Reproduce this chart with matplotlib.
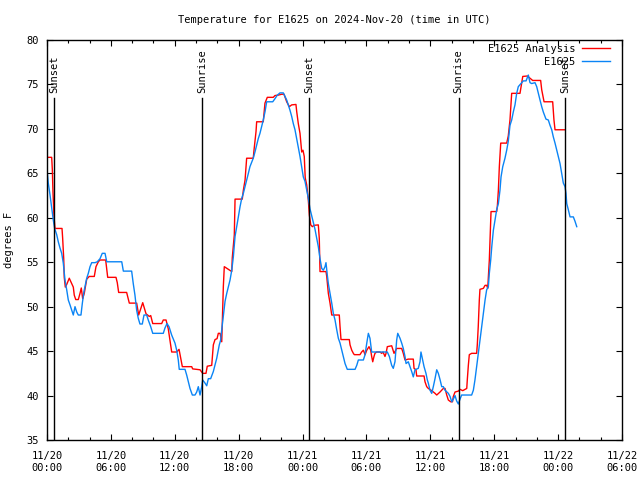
import matplotlib
matplotlib.use("Agg")
import matplotlib.pyplot as plt
from matplotlib.ticker import MultipleLocator

# hours since 2024-11-20 00:00 UTC
red_t = [0.00, 0.44, 0.50, 0.56, 0.66, 0.75, 1.41, 1.47, 1.57, 1.62, 1.72, 1.85, 2.09, 2.32, 2.47,
         2.56, 2.70, 2.94, 3.10, 3.22, 3.35, 3.50, 3.73, 3.97, 4.44, 4.60, 4.82, 4.98, 5.51, 5.70,
         6.48, 6.60, 6.73, 7.48, 7.73, 8.42, 8.61, 8.99, 9.30, 9.61, 9.74, 9.93, 10.77, 10.92, 11.18,
         11.39, 11.71, 12.18, 12.40, 12.71, 13.59, 13.68, 14.06, 14.37, 14.62, 14.93, 15.05, 15.47,
         15.62, 15.78, 15.97, 16.09, 16.25, 16.41, 16.56, 16.65, 17.03, 17.35, 17.40, 17.59, 17.66,
         18.34, 18.44, 18.60, 18.75, 19.37, 19.44, 19.63, 19.69, 20.31, 20.38, 20.47, 20.69, 21.25,
         21.41, 21.72, 22.04, 22.26, 22.51, 22.76, 22.98, 23.38, 23.45, 23.60, 23.76, 23.92, 24.04,
         24.16, 24.25, 24.39, 24.54, 24.64, 24.77, 24.92, 25.08, 25.48, 25.57, 25.64, 26.20, 26.27,
         26.42, 26.58, 26.74, 27.45, 27.52, 27.61, 28.39, 28.46, 28.62, 28.77, 28.86, 29.39, 29.55,
         29.71, 29.87, 30.03, 30.24, 30.40, 30.49, 30.59, 30.71, 30.80, 30.96, 31.27, 31.43, 31.56,
         31.74, 31.84, 31.96, 32.37, 32.59, 32.84, 33.31, 33.46, 33.62, 33.93, 34.40, 34.47, 34.65,
         34.72, 35.41, 35.50, 35.66, 35.81, 36.13, 36.44, 36.60, 36.91, 37.07, 37.22, 37.38, 37.54,
         37.69, 37.91, 38.08, 38.16, 38.32, 38.63, 38.79, 39.04, 39.26, 39.42, 39.47, 39.57, 39.66,
         39.88, 40.35, 40.41, 40.50, 40.60, 40.66, 40.98, 41.14, 41.29, 41.39, 41.45, 41.54, 41.61,
         41.70, 42.23, 42.29, 42.39, 42.48, 42.61, 43.17, 43.32, 43.48, 43.64, 44.42, 44.58, 44.68,
         45.11, 45.36, 45.61, 46.36, 46.46, 46.68, 47.49, 47.61, 47.71, 48.65]
red_v = [66.8, 66.8, 65.45, 62.9, 60.1, 58.8, 58.8, 57.7, 55.4, 53.3, 52.2, 52.5, 53.2, 52.6, 52.2,
         51.3, 50.8, 50.8, 51.5, 52.1, 50.9, 51.5, 53.1, 53.4, 53.4, 54.5, 55.05, 55.25, 55.25, 53.3,
         53.3, 52.7, 51.6, 51.6, 50.4, 50.4, 49.06, 50.45, 49.2, 48.9, 49.0, 48.1, 48.1, 48.5, 48.5,
         47.5, 44.9, 44.9, 45.2, 43.25, 43.25, 43.0, 42.95, 42.9, 42.5, 42.5, 43.3, 43.4,
         45.7, 46.3, 46.4, 47.0, 47.0, 46.05, 52.25, 54.5, 54.2, 53.95, 55.5, 58.06, 62.1,
         62.1, 63.1, 64.25, 66.7, 66.7, 67.6, 69.7, 70.8, 70.8, 71.75, 72.9, 73.55, 73.55,
         73.75, 73.8, 73.9, 73.9, 73.05, 72.5, 72.7, 72.75, 71.95, 70.6, 69.5, 67.4, 67.6,
         66.9, 64.5, 63.7, 62.0, 60.3, 59.2, 59.0, 59.15, 59.2, 57.7, 53.95, 53.95, 53.4,
         51.5, 50.4, 49.06, 49.06, 47.75, 46.3, 46.3, 45.7, 45.1, 44.75, 44.6, 44.6, 44.9,
         45.1, 44.6, 45.1, 45.5, 45.1, 44.4, 43.8, 44.4, 44.75, 44.9, 44.9, 44.75, 44.9,
         44.4, 44.75, 45.5, 45.6, 44.75, 45.3, 45.3, 44.75, 44.0, 44.1, 44.1, 43.06, 42.9,
         42.2, 42.2, 41.55, 41.0, 40.8, 40.55, 40.25, 40.06, 40.4, 40.6, 40.8, 40.8, 40.06,
         39.5, 39.3, 39.3, 39.9, 40.4, 40.5, 40.7, 40.55, 40.7, 40.8, 41.75, 43.4, 44.6,
         44.75, 44.75, 45.7, 47.75, 50.75, 51.95, 52.06, 52.4, 52.4, 52.06, 53.4, 55.25, 57.5,
         60.7, 60.7, 61.25, 63.1, 65.75, 68.4, 68.4, 69.2, 71.0, 74.0, 74.0, 75.2, 75.9,
         75.95, 75.7, 75.45, 75.45, 74.4, 73.05, 73.05, 71.0, 69.9, 69.9]

blue_t = [0.00, 0.12, 0.28, 0.44, 0.59, 0.72, 0.91, 1.06, 1.22, 1.38, 1.53, 1.69, 1.85, 2.00, 2.16,
          2.32, 2.47, 2.63, 2.79, 2.94, 3.19, 3.32, 3.47, 3.73, 3.88, 4.04, 4.20, 4.51, 4.72, 4.98,
          5.19, 5.45, 5.61, 7.02, 7.17, 7.95, 8.10, 8.26, 8.42, 8.57, 8.73, 8.95, 9.11, 9.36, 9.51,
          9.74, 9.93, 10.92, 11.08, 11.27, 11.46, 11.71, 12.02, 12.18, 12.33, 12.42, 12.96, 13.12,
          13.27, 13.43, 13.65, 13.90, 14.06, 14.21, 14.37, 14.53, 14.62, 14.84, 15.00, 15.15, 15.37,
          15.62, 15.94, 16.18, 16.31, 16.41, 16.56, 16.72, 16.88, 17.03, 17.19, 17.35, 17.50, 17.66,
          17.82, 17.97, 18.13, 18.29, 18.44, 18.60, 18.75, 18.91, 19.06, 19.37, 19.53, 19.69, 19.84,
          20.00, 20.16, 20.31, 20.47, 20.63, 21.20, 21.41, 21.63, 21.88, 22.19, 22.51, 22.66, 22.82,
          22.98, 23.13, 23.29, 23.45, 23.60, 23.76, 23.92, 24.07, 24.23, 24.39, 24.54, 24.70, 24.86,
          25.01, 25.17, 25.33, 25.48, 25.64, 25.80, 25.95, 26.11, 26.20, 26.32, 26.42, 26.58, 26.74,
          26.89, 27.05, 27.21, 27.36, 27.52, 27.68, 27.83, 27.99, 28.20, 28.93, 29.09, 29.24, 29.71,
          29.87, 30.03, 30.18, 30.33, 30.49, 31.96, 32.15, 32.37, 32.52, 32.68, 32.84, 32.94, 33.15,
          33.31, 33.46, 33.62, 33.72, 33.93, 34.09, 34.25, 34.40, 34.56, 34.87, 35.03, 35.12, 35.28,
          35.41, 35.59, 35.72, 35.81, 35.97, 36.13, 36.28, 36.44, 36.60, 36.75, 36.91, 37.07, 37.22,
          37.38, 37.69, 37.85, 38.01, 38.16, 38.32, 38.47, 38.63, 38.79, 38.94, 39.88, 40.04, 40.19,
          40.35, 40.50, 40.66, 40.82, 40.98, 41.14, 41.29, 41.45, 41.54, 41.67, 41.77, 41.92, 42.07,
          42.23, 42.39, 42.54, 42.64, 42.80, 43.01, 43.17, 43.32, 43.48, 43.64, 43.79, 43.95, 44.11,
          44.26, 44.58, 44.73, 44.99, 45.20, 45.36, 45.52, 45.83, 45.99, 46.14, 46.30, 46.46, 46.61,
          46.86, 47.08, 47.24, 47.40, 47.55, 47.71, 47.87, 48.02, 48.18, 48.34, 48.49, 48.65, 48.74,
          48.81, 48.96, 49.12, 49.43, 49.59, 49.75]
blue_v = [65.45, 63.9, 62.6, 61.1, 59.75, 58.8, 58.1, 57.3, 56.6, 56.0, 54.9, 53.0, 51.9, 50.75, 50.2,
          49.6, 49.06, 50.0, 49.4, 49.06, 49.06, 50.4, 51.7, 53.2, 53.75, 54.5, 54.95, 54.95, 55.05, 55.4,
          56.0, 56.0, 55.05, 55.05, 54.0, 54.0, 52.6, 51.3, 49.6, 48.7, 48.05, 48.05, 49.06, 49.06, 48.5,
          47.75, 47.0, 47.0, 47.6, 48.1, 47.75, 46.8, 45.9, 45.1, 44.0, 42.95, 42.95, 42.3,
          41.55, 40.8, 40.06, 40.06, 40.4, 41.0, 40.06, 41.0, 41.75, 41.4, 41.1, 41.9, 41.9,
          42.7, 44.2, 45.7, 46.25, 47.4, 48.9, 50.6, 51.5, 52.25, 53.0, 54.1, 55.6, 57.9,
          59.0, 60.1, 61.25, 62.2, 62.75, 63.5, 64.25, 65.0, 65.75, 66.7, 67.4, 68.2, 68.9,
          69.5, 70.25, 71.0, 71.9, 73.05, 73.05, 73.4, 73.8, 74.05, 74.05, 73.25, 72.7, 72.1,
          71.4, 70.6, 69.9, 68.9, 68.0, 66.9, 65.75, 64.6, 64.1, 63.1, 62.2, 61.0, 60.2,
          59.5, 58.7, 57.7, 56.75, 55.4, 54.3, 54.1, 54.5, 54.95, 53.6, 52.6, 51.5, 50.4,
          49.25, 48.5, 47.4, 46.45, 45.9, 45.1, 44.4, 43.6, 42.95, 42.95, 43.4, 44.0, 44.0,
          44.6, 45.9, 47.0, 46.45, 44.9, 44.9, 44.4, 43.4, 43.06, 43.8, 46.25, 47.0, 46.45,
          45.9, 45.3, 44.4, 43.6, 43.8, 43.25, 42.7, 42.1, 42.9, 43.06, 43.8, 44.9, 44.0,
          43.25, 42.5, 41.75, 41.4, 40.6, 40.25, 41.0, 41.9, 42.9, 42.5, 41.8, 41.0, 41.0,
          40.6, 40.25, 39.9, 39.3, 39.6, 40.0, 39.4, 39.05, 39.6, 40.06, 40.06, 40.6, 41.75,
          43.25, 44.75, 46.25, 47.75, 49.25, 50.75, 51.9, 52.25, 53.75, 55.25, 56.75, 58.6, 59.75,
          60.9, 61.6, 63.1, 64.6, 65.75, 66.7, 67.6, 68.6, 70.4, 71.0, 71.9, 72.7, 74.0,
          74.75, 75.2, 75.4, 75.4, 76.06, 75.2, 75.1, 75.2, 74.75, 74.0, 73.25, 72.5, 71.9,
          71.1, 71.0, 70.4, 69.9, 69.1, 68.4, 67.6, 66.9, 66.1, 65.0, 63.9, 63.5, 62.75,
          61.6, 60.9, 60.1, 60.1, 59.6, 59.0]

sun_t = [0.68, 14.58, 24.63, 38.65, 48.68]
sun_labels = ["Sunset", "Sunrise", "Sunset", "Sunrise", "Sunset"]

xtick_pos = [0, 6, 12, 18, 24, 30, 36, 42, 48, 54]
xtick_labels = ["11/20\n00:00", "11/20\n06:00", "11/20\n12:00", "11/20\n18:00", "11/21\n00:00",
                "11/21\n06:00", "11/21\n12:00", "11/21\n18:00", "11/22\n00:00", "11/22\n06:00"]
yticks = [35, 40, 45, 50, 55, 60, 65, 70, 75, 80]

FS = 7.5
plt.rcParams['font.family'] = ['DejaVu Sans Mono']
plt.rcParams['font.size'] = FS

fig = plt.figure(figsize=(6.4, 4.8), dpi=100)
ax = fig.add_axes([47 / 640, 40 / 480, 575 / 640, 400 / 480])

ax.plot(red_t, red_v, color='#ff0000', lw=1.0, label='E1625 Analysis')
ax.plot(blue_t, blue_v, color='#0a84f5', lw=1.0, label='E1625')

for t, lab in zip(sun_t, sun_labels):
    ax.plot([t, t], [35, 73.5], color='black', lw=1.0)
    ax.text(t, 74.0, lab, rotation=90, ha='center', va='bottom', fontsize=FS)

ax.set_xlim(0, 54)
ax.set_ylim(35, 80)
ax.set_xticks(xtick_pos)
ax.set_xticklabels(xtick_labels, linespacing=1.2)
ax.set_yticks(yticks)
ax.xaxis.set_minor_locator(MultipleLocator(2))
ax.tick_params(which='both', direction='in', top=True, right=True, colors='black')
ax.tick_params(which='major', length=4, width=0.8)
ax.tick_params(which='minor', length=2, width=0.8)
ax.tick_params(axis='x', pad=8)
ax.tick_params(axis='y', pad=6)
for s in ax.spines.values():
    s.set_linewidth(1.0)

ax.set_ylabel('degrees F', labelpad=9)
ax.set_title('Temperature for E1625 on 2024-Nov-20 (time in UTC)', fontsize=FS, pad=12)

leg = ax.legend(loc='upper right', frameon=False, markerfirst=False, handlelength=2.7,
                handletextpad=0.65, borderaxespad=0, borderpad=0, labelspacing=0.25,
                bbox_to_anchor=((610 - 47) / 575, 0.99))
for txt in leg.get_texts():
    txt.set_ha('right')

fig.savefig('out.png', dpi=100)
